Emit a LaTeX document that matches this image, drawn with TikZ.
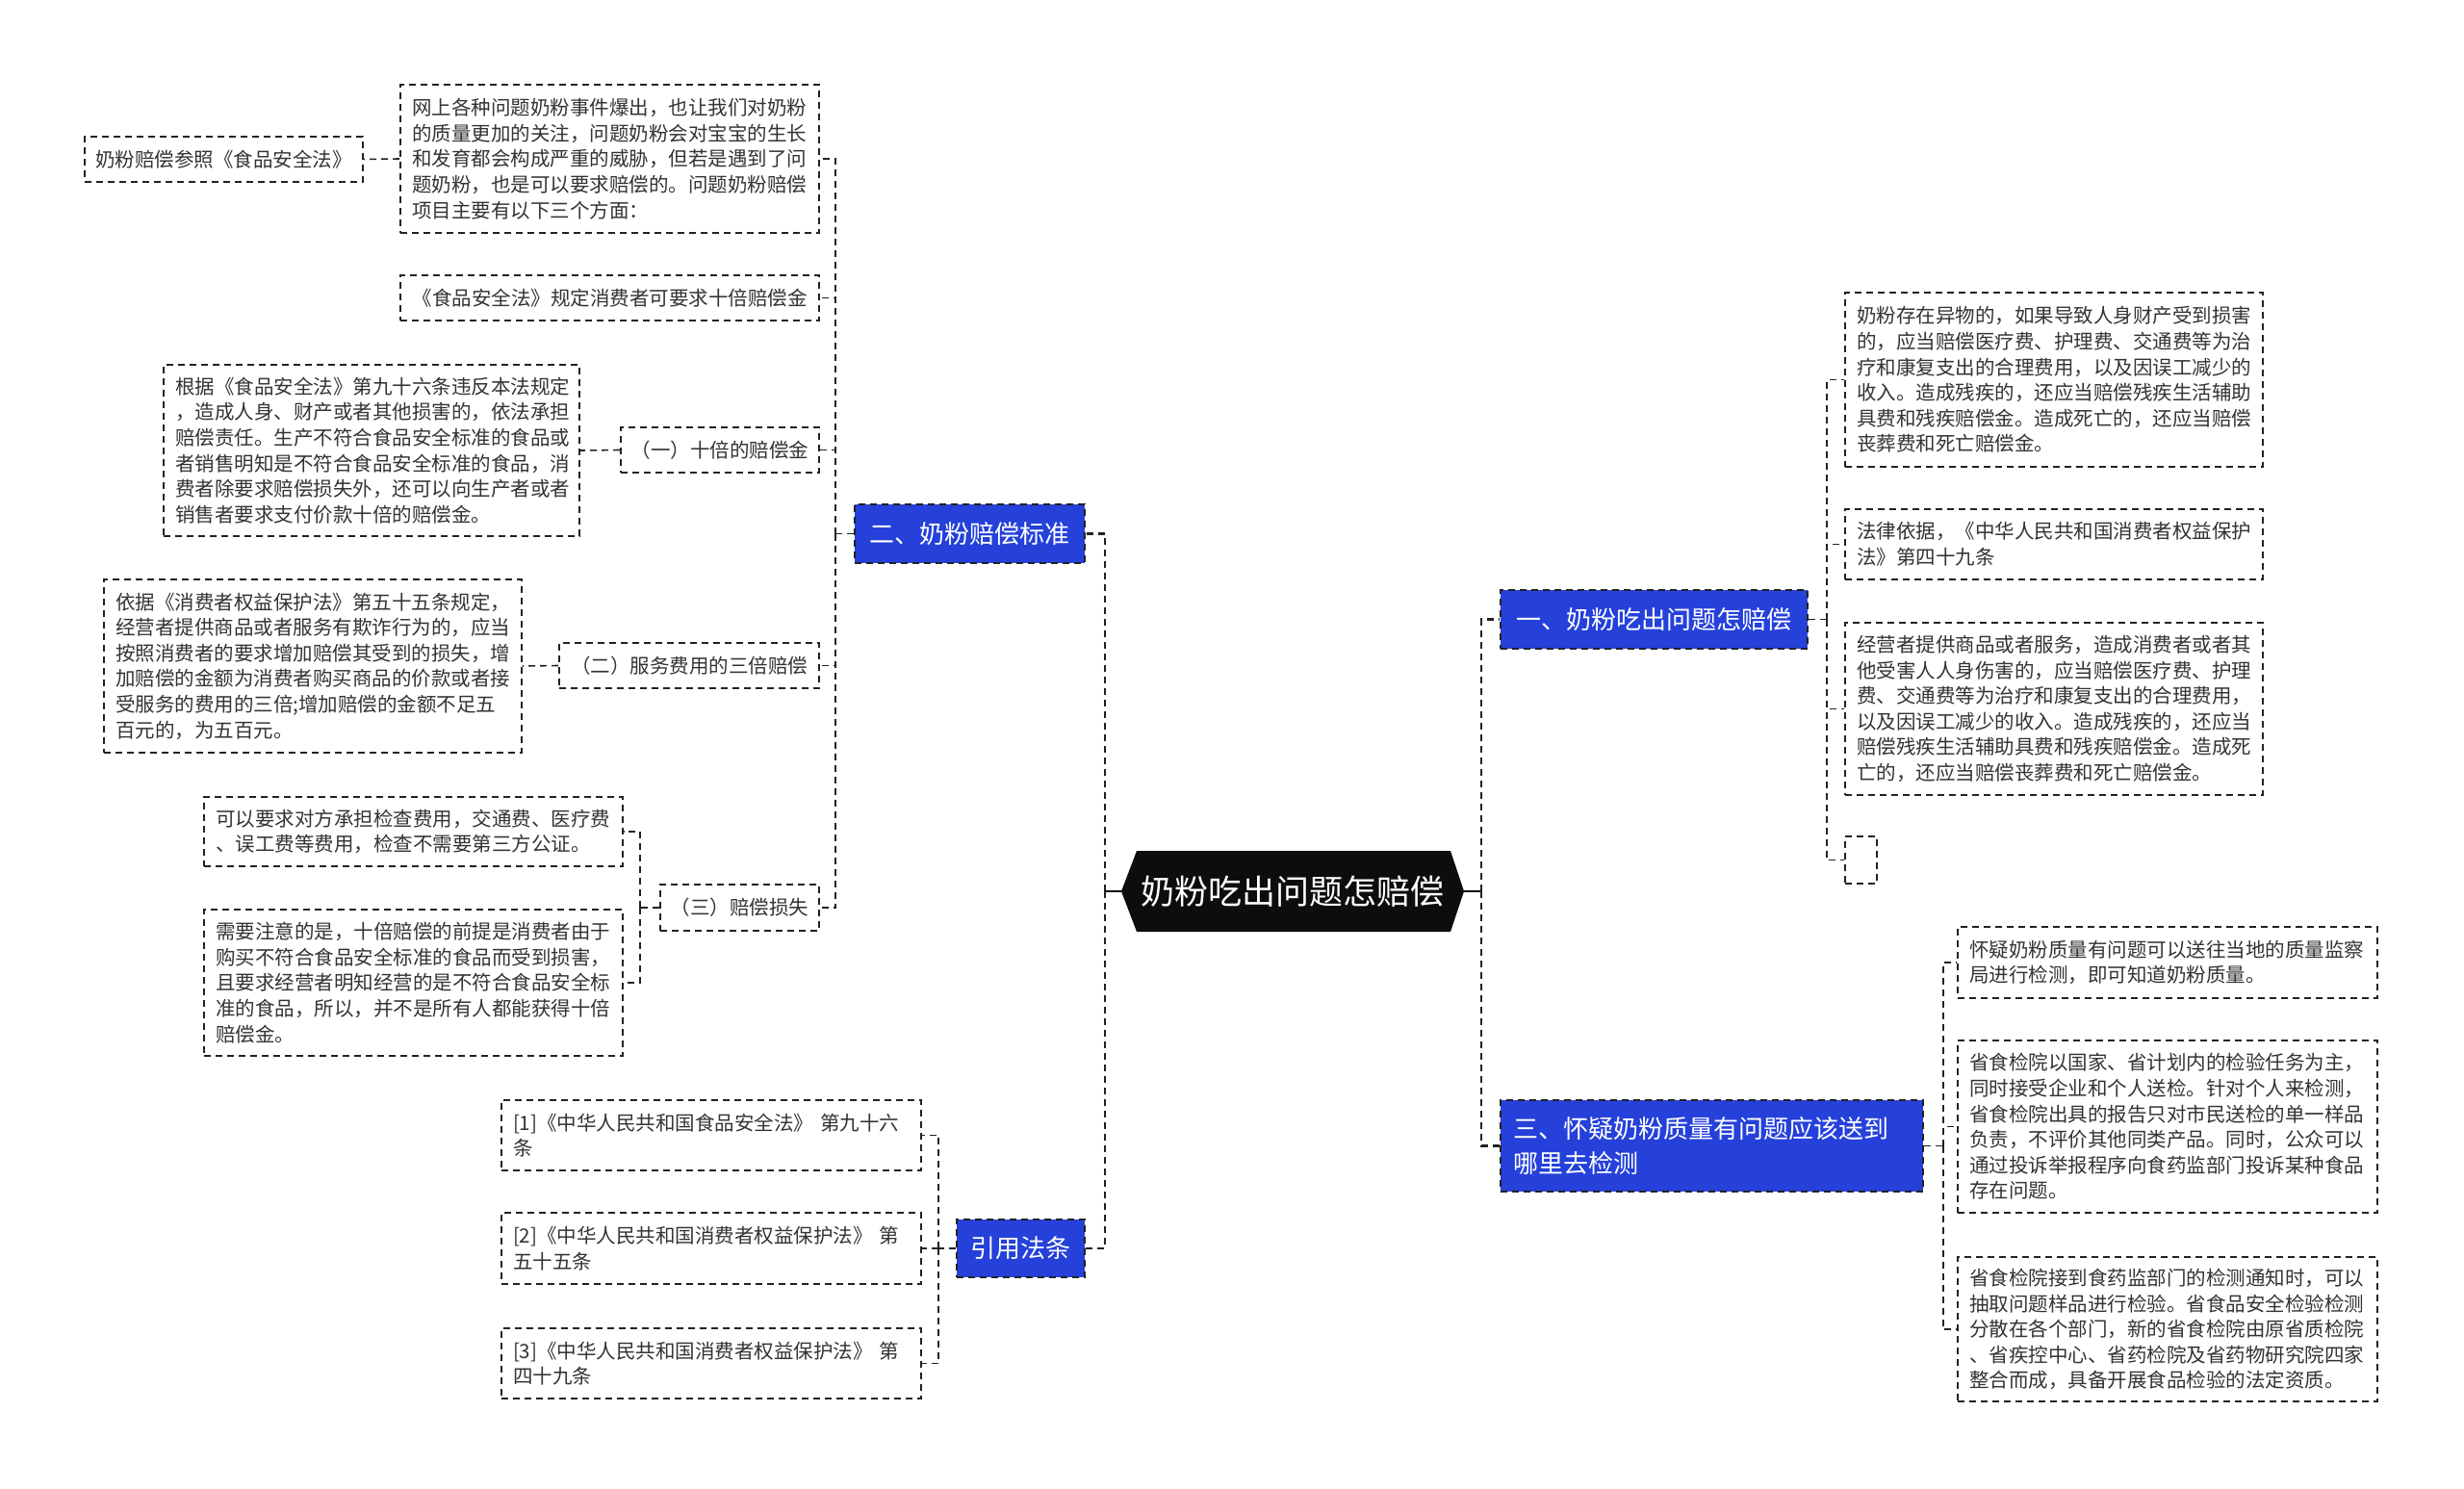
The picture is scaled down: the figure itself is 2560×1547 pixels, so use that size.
\documentclass[tikz,border=0pt]{standalone}
\usepackage{fontspec}
\setmainfont{Noto Sans CJK SC}
\definecolor{bl}{HTML}{2541DA}
\definecolor{tx}{HTML}{333333}
\definecolor{ln}{HTML}{222222}
\begin{document}
\begin{tikzpicture}[x=1pt,y=-1pt,
  leaf/.style={draw=ln, line width=1.6pt, dash pattern=on 7pt off 5pt, inner xsep=12pt, inner ysep=0pt,
    text=tx, font=\fontsize{20.5}{26.6}\selectfont, align=left, anchor=center},
  tag/.style={leaf, align=center, inner xsep=0pt},
  blue/.style={draw=ln, fill=bl, line width=1.6pt, dash pattern=on 7pt off 5pt, inner xsep=0pt, inner ysep=0pt,
    text=white, font=\fontsize{26}{36}\selectfont, align=center, anchor=center},
  l1/.style={draw=ln, line width=2.6pt, dash pattern=on 7pt off 5pt},
  l2/.style={draw=ln, line width=1.6pt, dash pattern=on 7pt off 5pt},
  stub/.style={draw=black, line width=2.6pt}
]
\fill[white] (0,0) rectangle (2560,1547);
\useasboundingbox (0,0) rectangle (2560,1547);

% root
\fill[black!95] (1165,926) -- (1181,884) -- (1507,884) -- (1521,926) -- (1507,968) -- (1181,968) -- cycle;
\node[minimum width=356pt, minimum height=84pt, inner sep=0pt, text=white, font=\fontsize{35}{40}\selectfont] (root) at (1343,926) {奶粉吃出问题怎赔偿};

% level 1
\node[blue, minimum width=239pt, minimum height=61pt] (b2) at (1007.5,554.5) {二、奶粉赔偿标准};
\node[blue, minimum width=133pt, minimum height=60pt] (cite) at (1060.5,1297) {引用法条};
\node[blue, minimum width=319pt, minimum height=61pt] (b1) at (1718.5,643.5) {一、奶粉吃出问题怎赔偿};
\node[blue, minimum width=439pt, minimum height=95pt, align=left, inner xsep=13pt, text width=413pt] (b3) at (1778.5,1190.5) {三、怀疑奶粉质量有问题应该送到\\哪里去检测};

% left branch 二
\node[leaf, text width=411pt, minimum height=154pt] (A) at (633.5,165) {网上各种问题奶粉事件爆出，也让我们对奶粉\\的质量更加的关注，问题奶粉会对宝宝的生长\\和发育都会构成严重的威胁，但若是遇到了问\\题奶粉，也是可以要求赔偿的。问题奶粉赔偿\\项目主要有以下三个方面：};
\node[tag, minimum width=289pt, minimum height=47pt] (A0) at (232.5,165.5) {奶粉赔偿参照《食品安全法》};
\node[tag, minimum width=435pt, minimum height=47pt] (B) at (633.5,309.5) {《食品安全法》规定消费者可要求十倍赔偿金};
\node[tag, minimum width=206pt, minimum height=47pt] (C) at (748,467.5) {（一）十倍的赔偿金};
\node[leaf, text width=408pt, minimum height=178pt] (C0) at (386,468) {根据《食品安全法》第九十六条违反本法规定\\，造成人身、财产或者其他损害的，依法承担\\赔偿责任。生产不符合食品安全标准的食品或\\者销售明知是不符合食品安全标准的食品，消\\费者除要求赔偿损失外，还可以向生产者或者\\销售者要求支付价款十倍的赔偿金。};
\node[tag, minimum width=270pt, minimum height=47pt] (D) at (716,691.5) {（二）服务费用的三倍赔偿};
\node[leaf, text width=410pt, minimum height=180pt] (D0) at (325,692) {依据《消费者权益保护法》第五十五条规定，\\经营者提供商品或者服务有欺诈行为的，应当\\按照消费者的要求增加赔偿其受到的损失，增\\加赔偿的金额为消费者购买商品的价款或者接\\受服务的费用的三倍;增加赔偿的金额不足五\\百元的，为五百元。};
\node[tag, minimum width=165pt, minimum height=48pt] (E) at (768.5,943) {（三）赔偿损失};
\node[leaf, text width=411pt, minimum height=72pt] (F1) at (429.5,864) {可以要求对方承担检查费用，交通费、医疗费\\、误工费等费用，检查不需要第三方公证。};
\node[leaf, text width=411pt, minimum height=152pt] (F2) at (429.5,1021) {需要注意的是，十倍赔偿的前提是消费者由于\\购买不符合食品安全标准的食品而受到损害，\\且要求经营者明知经营的是不符合食品安全标\\准的食品，所以，并不是所有人都能获得十倍\\赔偿金。};

% citations
\node[leaf, text width=412pt, minimum height=73pt] (c1) at (739,1179.5) {[1]《中华人民共和国食品安全法》 第九十六\\条};
\node[leaf, text width=412pt, minimum height=74pt] (c2) at (739,1297) {[2]《中华人民共和国消费者权益保护法》 第\\五十五条};
\node[leaf, text width=412pt, minimum height=73pt] (c3) at (739,1416.5) {[3]《中华人民共和国消费者权益保护法》 第\\四十九条};

% right branch 一
\node[leaf, text width=410pt, minimum height=181pt] (R1) at (2134,394.5) {奶粉存在异物的，如果导致人身财产受到损害\\的，应当赔偿医疗费、护理费、交通费等为治\\疗和康复支出的合理费用，以及因误工减少的\\收入。造成残疾的，还应当赔偿残疾生活辅助\\具费和残疾赔偿金。造成死亡的，还应当赔偿\\丧葬费和死亡赔偿金。};
\node[leaf, text width=410pt, minimum height=73pt] (R2) at (2134,565.5) {法律依据，《中华人民共和国消费者权益保护\\法》第四十九条};
\node[leaf, text width=410pt, minimum height=179pt] (R3) at (2134,736.5) {经营者提供商品或者服务，造成消费者或者其\\他受害人人身伤害的，应当赔偿医疗费、护理\\费、交通费等为治疗和康复支出的合理费用，\\以及因误工减少的收入。造成残疾的，还应当\\赔偿残疾生活辅助具费和残疾赔偿金。造成死\\亡的，还应当赔偿丧葬费和死亡赔偿金。};
\node[tag, minimum width=33pt, minimum height=49pt] (R4) at (1933.5,893.5) {};

% right branch 三
\node[leaf, text width=412pt, minimum height=74pt] (S1) at (2252,1000) {怀疑奶粉质量有问题可以送往当地的质量监察\\局进行检测，即可知道奶粉质量。};
\node[leaf, text width=412pt, minimum height=179pt] (S2) at (2252,1170.5) {省食检院以国家、省计划内的检验任务为主，\\同时接受企业和个人送检。针对个人来检测，\\省食检院出具的报告只对市民送检的单一样品\\负责，不评价其他同类产品。同时，公众可以\\通过投诉举报程序向食药监部门投诉某种食品\\存在问题。};
\node[leaf, text width=412pt, minimum height=150pt] (S3) at (2252,1381) {省食检院接到食药监部门的检测通知时，可以\\抽取问题样品进行检验。省食品安全检验检测\\分散在各个部门，新的省食检院由原省质检院\\、省疾控中心、省药检院及省药物研究院四家\\整合而成，具备开展食品检验的法定资质。};

% connectors from root
\coordinate (lsp) at (1148,926);
\coordinate (rsp) at (1539,926);
\draw[stub] (root.west) -- (lsp);
\draw[stub] (root.east) -- (rsp);
\draw[l1] (lsp) |- (b2.east);
\draw[l1] (lsp) |- (cite.east);
\draw[l1] (rsp) |- (b1.west);
\draw[l1] (rsp) |- (b3.west);

% 二 children
\draw[l2] (b2.west) -- ++(-19,0) coordinate (s2);
\foreach \n in {A,B,C,D,E} \draw[l2] (s2) |- (\n.east);
\draw[l2] (A.west) -- (A0.east);
\draw[l2] (C.west) -- (C0.east);
\draw[l2] (D.west) -- (D0.east);
\draw[l2] (E.west) -- ++(-20,0) coordinate (s3);
\draw[l2] (s3) |- (F1.east);
\draw[l2] (s3) |- (F2.east);

% citations
\draw[l2] (cite.west) -- ++(-18,0) coordinate (s4);
\foreach \n in {c1,c2,c3} \draw[l2] (s4) |- (\n.east);

% 一 children
\draw[l2] (b1.east) -- ++(19,0) coordinate (s5);
\foreach \n in {R1,R2,R3,R4} \draw[l2] (s5) |- (\n.west);

% 三 children
\draw[l2] (b3.east) -- ++(20,0) coordinate (s6);
\foreach \n in {S1,S2,S3} \draw[l2] (s6) |- (\n.west);
\end{tikzpicture}
\end{document}
